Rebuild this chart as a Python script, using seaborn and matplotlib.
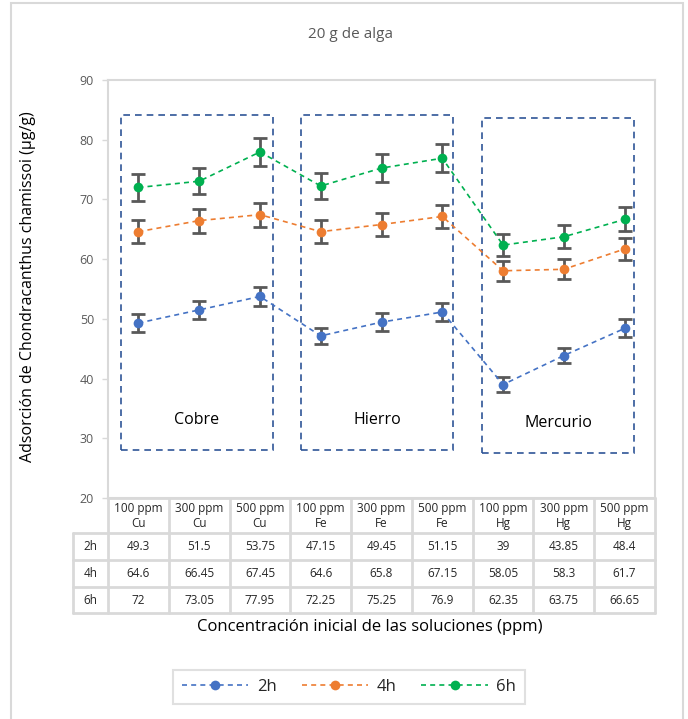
import numpy as np
import pandas as pd
import matplotlib
matplotlib.use("Agg")
import matplotlib.pyplot as plt
import seaborn as sns
from matplotlib.patches import Rectangle
from matplotlib.lines import Line2D

# chart data
categorias = ['100 ppm\nCu', '300 ppm\nCu', '500 ppm\nCu',
              '100 ppm\nFe', '300 ppm\nFe', '500 ppm\nFe',
              '100 ppm\nHg', '300 ppm\nHg', '500 ppm\nHg']
series = ['2h', '4h', '6h']
v_2h = [49.3, 51.5, 53.75, 47.15, 49.45, 51.15, 39, 43.85, 48.4]
v_4h = [64.6, 66.45, 67.45, 64.6, 65.8, 67.15, 58.05, 58.3, 61.7]
v_6h = [72, 73.05, 77.95, 72.25, 75.25, 76.9, 62.35, 63.75, 66.65]
err_2h = [1.5, 1.5, 1.6, 1.4, 1.5, 1.5, 1.2, 1.3, 1.5]
err_4h = [1.9, 2.0, 2.0, 1.9, 2.0, 2.0, 1.7, 1.7, 1.9]
err_6h = [2.2, 2.2, 2.3, 2.2, 2.3, 2.3, 1.9, 1.9, 2.0]
grupos = ['Cobre', 'Hierro', 'Mercurio']
colores = ['#4472C4', '#ED7D31', '#00B050']

valores = [v_2h, v_4h, v_6h]
errores = [err_2h, err_4h, err_6h]

df = pd.DataFrame({
    'pos': list(range(len(categorias))) * 3,
    'valor': v_2h + v_4h + v_6h,
    'serie': np.repeat(series, len(categorias)),
})

sns.set_style('white')
plt.rcParams['font.family'] = ['Open Sans', 'DejaVu Sans']

W, H = 688, 719
fig = plt.figure(figsize=(W / 100, H / 100), dpi=100)
gris = '#d9d9d9'
texto = '#595959'

def px(x0, y0, x1, y1):
    return [x0 / W, 1 - y1 / H, (x1 - x0) / W, (y1 - y0) / H]

# outer chart border
fig.patches.append(Rectangle((11 / W, -0.01), (683 - 11) / W, 1 - 3 / H + 0.01,
                             transform=fig.transFigure, fill=False,
                             edgecolor=gris, lw=1.5))

ax = fig.add_axes(px(108, 80, 655, 498))

sns.lineplot(data=df, x='pos', y='valor', hue='serie', palette=colores,
             marker='o', markersize=7, markeredgewidth=0, lw=1.2,
             legend=False, ax=ax, zorder=3)
for ln in ax.lines:
    ln.set_dashes((3, 2.5))

for vals, errs in zip(valores, errores):
    ax.errorbar(range(len(categorias)), vals, yerr=errs, fmt='none',
                ecolor='#595959', elinewidth=2, capsize=5, capthick=2, zorder=2)

ax.set_xlim(-0.5, len(categorias) - 0.5)
ax.set_ylim(20, 90)
ax.set_yticks(range(20, 91, 10))
ax.set_xticks([])
ax.set_xlabel('')
ax.set_ylabel('')
ax.tick_params(axis='y', length=4, width=1, color=gris, labelcolor=texto,
               labelsize=9, pad=6, left=True)
for s in ax.spines.values():
    s.set_color(gris)
    s.set_linewidth(1.5)

# dashed group boxes
cajas = [(-0.286, 2.215, 28.0, 84.1), (2.675, 5.176, 28.0, 84.1),
         (5.653, 8.154, 27.5, 83.6)]
for (x0, x1, y0, y1), nombre in zip(cajas, grupos):
    ax.add_patch(Rectangle((x0, y0), x1 - x0, y1 - y0, fill=False,
                           edgecolor='#2F5597', lw=1.2, ls=(0, (4, 3)), zorder=1))
    ax.text((x0 + x1) / 2, y0 + 5, nombre, ha='center', va='center',
            fontsize=11.5, color='black')

# data table
tx = fig.add_axes(px(108, 498, 655, 613))
tx.set_xlim(-0.5, len(categorias) - 0.5)
tx.set_ylim(613, 498)
tx.axis('off')
filas = [498, 533, 560, 587, 613]
xl = -0.5 - 35 / (547 / 9)
for y in filas[1:]:
    tx.plot([xl, 8.5], [y, y], color=gris, lw=2, clip_on=False)
tx.plot([-0.5, 8.5], [498, 498], color=gris, lw=2, clip_on=False)
tx.plot([xl, xl], [533, 613], color=gris, lw=2, clip_on=False)
for i in range(len(categorias) + 1):
    tx.plot([i - 0.5, i - 0.5], [498, 613], color=gris, lw=2, clip_on=False)
for i, c in enumerate(categorias):
    tx.text(i, 516, c, ha='center', va='center', fontsize=8.5,
            color='#262626', linespacing=1.25)
for r, (nombre, vals) in enumerate(zip(series, valores)):
    yc = (filas[r + 1] + filas[r + 2]) / 2
    tx.text((xl - 0.5) / 2, yc, nombre, ha='center', va='center',
            fontsize=8.5, color='#262626', clip_on=False)
    for i, v in enumerate(vals):
        tx.text(i, yc, f'{v:g}', ha='center', va='center', fontsize=8.5,
                color='#262626')

fig.text(350 / W, 1 - 35 / H, '20 g de alga', ha='center', va='center',
         fontsize=11, color=texto)
fig.text(28 / W, 1 - 287 / H, 'Adsorción de Chondracanthus chamissoi (µg/g)',
         rotation=90, ha='center', va='center', fontsize=11.5, color='black')
fig.text(370 / W, 1 - 627 / H, 'Concentración inicial de las soluciones (ppm)',
         ha='center', va='center', fontsize=12, color='black')

handles = [Line2D([], [], color=c, lw=1.2, ls=(0, (3, 2.5)), marker='o',
                  markersize=7, markeredgewidth=0) for c in colores]
leg = fig.legend(handles, series, loc='center', bbox_to_anchor=(349 / W, 1 - 687 / H),
                 ncol=3, frameon=True, fancybox=False, fontsize=12,
                 handlelength=4.0, numpoints=1, columnspacing=1.5,
                 borderpad=0.55, handletextpad=0.5, borderaxespad=0)
leg.get_frame().set_edgecolor(gris)
leg.get_frame().set_linewidth(1.5)

fig.savefig('out.png', dpi=100)
